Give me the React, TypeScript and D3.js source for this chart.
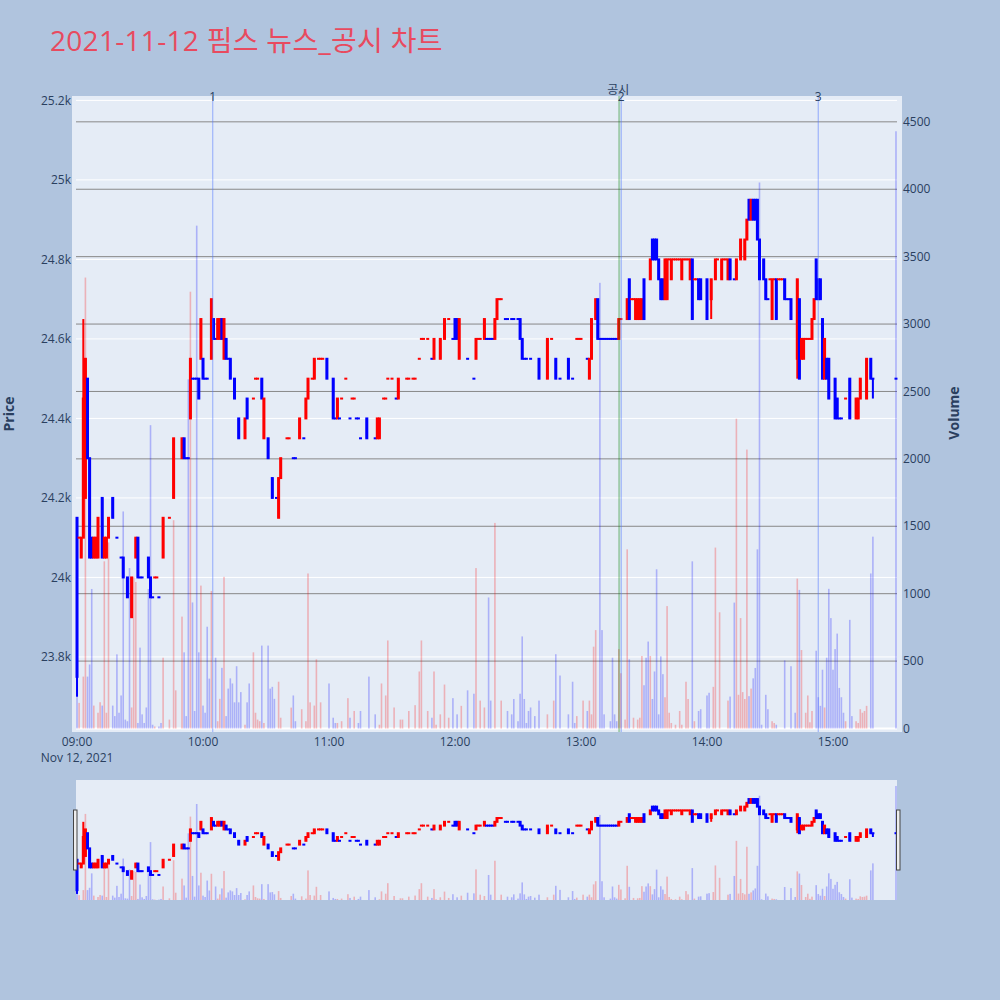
import React from 'react';
import * as d3 from 'd3';

// ---------- data (1-minute candles, minute index from 09:00) ----------
// [minute, open, close, high?, low?]
const candleRows: number[][] = [
  [0, 24150, 23750, 24150, 23700], [1, 24100, 24100], [2, 24050, 24100], [3, 24100, 24450, 24650, 24100],
  [4, 24200, 24550], [5, 24500, 24300], [6, 24300, 24050], [7, 24100, 24050], [8, 24050, 24100],
  [9, 24050, 24100], [10, 24050, 24150], [12, 24200, 24050], [13, 24050, 24100], [14, 24050, 24100],
  [15, 24100, 24150], [17, 24200, 24150], [19, 24100, 24100], [21, 24050, 24050], [22, 24050, 24000],
  [24, 24000, 23950], [26, 23900, 24000], [28, 24050, 24100], [29, 24100, 24000], [30, 24000, 24000],
  [31, 24000, 24000], [34, 24050, 24000], [35, 24000, 23950], [36, 23950, 23950], [37, 24000, 24000],
  [38, 24000, 24000], [39, 23950, 23950], [41, 24050, 24150], [44, 24150, 24150], [46, 24200, 24350],
  [50, 24300, 24350], [51, 24350, 24300], [52, 24300, 24300], [53, 24300, 24300], [54, 24400, 24550],
  [55, 24500, 24500], [56, 24500, 24500], [57, 24500, 24500], [58, 24500, 24450], [59, 24550, 24650],
  [60, 24550, 24500], [61, 24500, 24500], [62, 24500, 24500], [64, 24550, 24700], [65, 24650, 24600],
  [66, 24600, 24600], [67, 24600, 24650], [68, 24600, 24650], [69, 24650, 24600], [70, 24550, 24650],
  [71, 24600, 24550], [72, 24550, 24550], [73, 24550, 24500], [75, 24500, 24450], [77, 24400, 24350],
  [80, 24350, 24400], [81, 24450, 24400], [84, 24450, 24450], [85, 24500, 24500], [86, 24500, 24500],
  [88, 24500, 24450], [89, 24350, 24450], [91, 24350, 24300], [93, 24250, 24200], [95, 24200, 24200],
  [96, 24150, 24250], [97, 24250, 24300], [100, 24350, 24350], [101, 24350, 24350], [103, 24300, 24300],
  [104, 24300, 24300], [106, 24350, 24400], [108, 24350, 24350], [109, 24400, 24450], [110, 24450, 24500],
  [112, 24500, 24500], [113, 24500, 24550], [115, 24550, 24550], [116, 24550, 24550], [117, 24550, 24550],
  [119, 24550, 24500], [122, 24500, 24400], [123, 24400, 24400], [124, 24400, 24450], [125, 24400, 24400],
  [126, 24450, 24450], [128, 24500, 24500], [130, 24400, 24400], [131, 24450, 24450], [132, 24450, 24450],
  [133, 24400, 24400], [134, 24400, 24400], [135, 24350, 24350], [138, 24400, 24350], [142, 24350, 24350],
  [143, 24350, 24400], [144, 24350, 24400], [146, 24450, 24450], [147, 24450, 24450], [148, 24500, 24500],
  [150, 24500, 24500], [152, 24450, 24450], [153, 24450, 24500], [157, 24500, 24500], [158, 24500, 24500],
  [160, 24500, 24500], [161, 24500, 24500], [163, 24550, 24550], [164, 24600, 24600], [165, 24600, 24600],
  [167, 24600, 24600], [169, 24550, 24550], [170, 24550, 24600], [173, 24550, 24600], [175, 24600, 24650],
  [177, 24650, 24650], [179, 24600, 24600], [180, 24650, 24600], [181, 24650, 24600], [182, 24550, 24650],
  [186, 24550, 24550], [189, 24500, 24500], [190, 24550, 24600], [191, 24600, 24600], [192, 24600, 24600],
  [194, 24600, 24650], [195, 24600, 24600], [196, 24600, 24600], [197, 24600, 24600], [198, 24600, 24600],
  [199, 24600, 24650], [200, 24650, 24700], [201, 24700, 24700], [202, 24700, 24700], [204, 24650, 24650],
  [205, 24650, 24650], [207, 24650, 24650], [208, 24650, 24650], [210, 24650, 24650], [211, 24650, 24600],
  [212, 24600, 24550], [213, 24550, 24550], [214, 24550, 24550], [216, 24550, 24550], [220, 24550, 24500],
  [224, 24500, 24600], [226, 24600, 24600], [228, 24550, 24500], [230, 24500, 24500], [234, 24550, 24500],
  [236, 24500, 24500], [238, 24600, 24600], [239, 24600, 24600], [240, 24600, 24600], [243, 24550, 24550],
  [244, 24500, 24550], [245, 24550, 24650], [247, 24650, 24700], [248, 24700, 24600], [249, 24600, 24600],
  [250, 24600, 24600], [251, 24600, 24600], [252, 24600, 24600], [253, 24600, 24600], [254, 24600, 24600],
  [255, 24600, 24600], [256, 24600, 24600], [257, 24600, 24600], [258, 24600, 24650], [259, 24650, 24650],
  [262, 24650, 24700], [263, 24750, 24650], [264, 24700, 24700], [265, 24700, 24700], [266, 24650, 24700],
  [267, 24650, 24700], [268, 24650, 24700], [269, 24650, 24700], [270, 24750, 24650], [273, 24750, 24800],
  [274, 24850, 24800], [275, 24850, 24800], [276, 24850, 24800], [277, 24800, 24750], [278, 24750, 24700],
  [279, 24750, 24700], [280, 24700, 24800], [281, 24700, 24800], [282, 24800, 24800], [283, 24750, 24800],
  [284, 24800, 24800], [285, 24800, 24800], [286, 24800, 24800], [287, 24800, 24800], [288, 24750, 24800],
  [289, 24800, 24800], [290, 24800, 24800], [291, 24800, 24800], [292, 24750, 24800], [293, 24800, 24650],
  [294, 24750, 24750], [295, 24750, 24750], [296, 24750, 24700], [297, 24750, 24700], [300, 24750, 24650],
  [302, 24700, 24750, 24750, 24650], [304, 24750, 24800], [305, 24800, 24800], [307, 24750, 24800],
  [308, 24800, 24800], [309, 24800, 24800], [310, 24750, 24800], [311, 24800, 24750], [313, 24750, 24750],
  [314, 24750, 24800], [316, 24800, 24850], [318, 24800, 24850], [319, 24850, 24900], [320, 24950, 24900],
  [321, 24900, 24950], [322, 24950, 24900], [323, 24950, 24900], [324, 24950, 24850], [325, 24850, 24750],
  [327, 24800, 24750], [328, 24750, 24700], [329, 24700, 24700], [330, 24750, 24750], [331, 24650, 24750],
  [332, 24750, 24750], [333, 24750, 24650], [334, 24750, 24750], [335, 24750, 24750], [336, 24750, 24750],
  [337, 24750, 24700], [338, 24700, 24700], [339, 24700, 24700], [340, 24700, 24650],
  [343, 24550, 24750, 24750, 24500], [344, 24700, 24500], [345, 24550, 24600], [346, 24550, 24600],
  [347, 24600, 24600], [348, 24600, 24600], [349, 24600, 24600], [350, 24600, 24650], [351, 24650, 24700],
  [352, 24800, 24700], [353, 24750, 24700], [354, 24750, 24700], [355, 24650, 24500], [356, 24500, 24600],
  [357, 24550, 24500], [358, 24550, 24450], [361, 24500, 24400], [362, 24450, 24400], [363, 24400, 24400],
  [364, 24400, 24400], [366, 24450, 24450], [368, 24500, 24400], [371, 24400, 24450], [372, 24400, 24450],
  [373, 24450, 24500], [376, 24450, 24550], [378, 24550, 24500], [379, 24500, 24500, 24500, 24450],
  [390, 24500, 24500],
];

// [minute, volume]
const volumeRows: number[][] = [
  [0, 258], [1, 190], [3, 385], [4, 3345], [5, 385], [6, 475], [7, 1035], [8, 170], [10, 117], [11, 195],
  [12, 170], [13, 1240], [14, 117], [15, 1380], [17, 170], [18, 92], [19, 550], [20, 117], [21, 245],
  [22, 1610], [23, 66], [24, 54], [25, 1190], [26, 156], [27, 1125], [28, 1087], [29, 41], [30, 600],
  [31, 105], [32, 41], [33, 156], [34, 1035], [35, 2250], [36, 28], [37, 15], [39, 15], [40, 41], [41, 525],
  [44, 66], [46, 1545], [47, 283], [50, 830], [51, 565], [52, 92], [53, 2590], [54, 3240], [55, 935],
  [56, 130], [57, 3730], [58, 565], [59, 1060], [60, 170], [61, 117], [62, 755], [63, 370], [64, 1020],
  [66, 525], [67, 54], [68, 220], [69, 450], [70, 1125], [71, 92], [72, 296], [73, 372], [74, 334],
  [75, 194], [76, 462], [77, 194], [78, 270], [80, 28], [81, 194], [82, 334], [84, 565], [85, 117],
  [86, 66], [87, 54], [88, 615], [89, 41], [91, 615], [92, 296], [93, 309], [94, 220], [96, 347], [97, 80],
  [102, 155], [103, 245], [104, 54], [107, 143], [109, 54], [110, 1150], [111, 194], [113, 170], [114, 513],
  [116, 194], [120, 334], [122, 80], [123, 41], [124, 41], [126, 54], [129, 225], [130, 80], [132, 130],
  [134, 41], [135, 130], [139, 385], [142, 105], [144, 28], [145, 334], [147, 245], [148, 653], [151, 156],
  [154, 66], [155, 66], [158, 130], [161, 173], [163, 423], [164, 653], [167, 130], [169, 80], [170, 423],
  [171, 28], [173, 105], [175, 326], [177, 80], [179, 225], [181, 105], [183, 168], [186, 283], [189, 258],
  [190, 1190], [192, 207], [194, 156], [196, 972], [197, 207], [199, 1525], [202, 207], [205, 130],
  [207, 105], [208, 219], [210, 54], [211, 258], [212, 683], [213, 219], [214, 41], [215, 130], [216, 156],
  [218, 92], [220, 207], [224, 105], [227, 207], [228, 551], [230, 393], [234, 105], [236, 347], [237, 41],
  [238, 92], [241, 207], [243, 130], [244, 207], [245, 105], [246, 607], [247, 730], [249, 3306], [250, 730],
  [251, 105], [254, 54], [255, 525], [256, 105], [257, 54], [258, 589], [259, 410], [261, 66], [262, 1329],
  [263, 513], [265, 80], [267, 66], [268, 80], [269, 538], [270, 321], [271, 525], [272, 645], [273, 538],
  [274, 219], [275, 423], [276, 1181], [277, 105], [278, 535], [279, 403], [280, 232], [281, 908], [282, 117],
  [283, 41], [285, 28], [287, 130], [288, 28], [290, 347], [291, 219], [293, 1240], [294, 54], [296, 130],
  [297, 143], [300, 245], [301, 265], [303, 309], [304, 1342], [306, 862], [310, 207], [311, 237], [313, 934],
  [314, 2298], [315, 250], [316, 819], [317, 270], [318, 219], [319, 2069], [320, 240], [321, 296],
  [322, 372], [323, 449], [324, 1329], [325, 4050], [326, 28], [328, 250], [329, 143], [331, 54], [332, 41],
  [333, 28], [337, 505], [340, 462], [342, 117], [343, 1112], [344, 1028], [345, 582], [347, 117], [348, 245],
  [349, 46], [350, 130], [352, 577], [353, 232], [354, 168], [355, 436], [356, 156], [357, 525], [358, 1036],
  [359, 819], [360, 436], [361, 589], [362, 704], [363, 301], [364, 232], [365, 117], [366, 54], [368, 806],
  [369, 92], [371, 54], [372, 41], [373, 143], [374, 117], [375, 130], [376, 168], [378, 1150], [379, 1423],
  [390, 4430],
];

const priceTicks = [23800, 24000, 24200, 24400, 24600, 24800, 25000, 25200];
const volumeTicks = [0, 500, 1000, 1500, 2000, 2500, 3000, 3500, 4000, 4500];
const hourTicks = [9, 10, 11, 12, 13, 14, 15];
const newsLines = [
  { label: '1', time: '10:04:37' },
  { label: '2', time: '13:19:11' },
  { label: '3', time: '14:53:00' },
];
const disclosureLines = [{ label: '공시', time: '13:18:11' }];

const TITLE = '2021-11-12 핌스 뉴스_공시 차트';

// ---------- styling ----------
const PAPER = '#b0c4de';
const PLOT_BG = '#e5ecf6';
const TXT = '#2a3f5f';
const UP = '#ff0000';
const DOWN = '#0000ff';
const FONT = "'Open Sans', 'Noto Sans CJK KR', sans-serif";

const at = (h: number, m: number, s = 0) => new Date(2021, 10, 12, h, m, s);
const fromMinute = (min: number) => new Date(at(9, 0).getTime() + min * 60000);
const parseT = (s: string) => {
  const [h, m, sec] = s.split(':').map(Number);
  return at(h, m, sec);
};

type Candle = { m: number; o: number; h: number; l: number; c: number; inc: boolean };

function buildCandles(): Candle[] {
  let inc = true;
  let cPrev: number | null = null;
  return candleRows.map((r) => {
    const [m, o, c] = r;
    const h = r[3] ?? Math.max(o, c);
    const l = r[4] ?? Math.min(o, c);
    if (c === o) {
      if (cPrev !== null && c !== cPrev) inc = c > cPrev;
    } else inc = c > o;
    cPrev = c;
    return { m, o, h, l, c, inc };
  });
}

const candles = buildCandles();
const volumes = (() => {
  let state = true;
  let ci = 0;
  return volumeRows.map(([m, v]) => {
    while (ci < candles.length && candles[ci].m <= m) {
      state = candles[ci].inc;
      ci++;
    }
    return { m, v, inc: state };
  });
})();

function Marks({ x, yp, yv, prefix }: any) {
  return (
    <g>
      {candles.map((d) => {
        const cx = x(fromMinute(d.m));
        const col = d.inc ? UP : DOWN;
        const top = yp(Math.max(d.o, d.c));
        const bot = yp(Math.min(d.o, d.c));
        return (
          <g key={prefix + 'c' + d.m}>
            {d.h !== d.l && (
              <rect x={cx - 1} y={yp(d.h)} width={2} height={yp(d.l) - yp(d.h)} fill={col} />
            )}
            <rect x={cx - 1.5} y={top - 1} width={3} height={bot - top + 2} fill={col} />
          </g>
        );
      })}
      {volumes.map((d) => {
        const cx = x(fromMinute(d.m));
        return (
          <rect
            key={prefix + 'v' + d.m}
            x={cx - 0.8}
            y={yv(d.v)}
            width={1.6}
            height={yv(0) - yv(d.v)}
            fill={d.inc ? UP : DOWN}
            fillOpacity={0.25}
          />
        );
      })}
    </g>
  );
}

export default function App() {
  const L = 76;
  const R = 897;
  const x = d3.scaleTime().domain([at(8, 59, 31), at(15, 30, 29)]).range([L, R]);
  const yP = d3.scaleLinear().domain([23620, 25201]).range([728.5, 100]);
  const yV = d3.scaleLinear().domain([0, 4662]).range([728.5, 100]);
  const ySP = yP.copy().range([900, 780]);
  const ySV = yV.copy().range([900, 780]);
  const fmtK = (v: number) => d3.format('~g')(v / 1000) + 'k';

  return (
    <div style={{ position: 'absolute', left: 0, top: 0 }}>
      <svg width={1000} height={1000} style={{ display: 'block', fontFamily: FONT }}>
        <rect x={0} y={0} width={1000} height={1000} fill={PAPER} />
        {/* title */}
        <text x={50} y={51} fontSize={28} fill="#e84a5f" fontFamily={FONT} letterSpacing={0.3}>
          {TITLE}
        </text>

        {/* main plot background */}
        <rect x={72} y={96} width={830} height={636} fill={PLOT_BG} />

        {/* price grid (white) */}
        {priceTicks.map((t) => (
          <line key={'pg' + t} x1={L} x2={R} y1={yP(t)} y2={yP(t)} stroke="#ffffff" strokeWidth={1} />
        ))}
        {/* volume grid (gray) */}
        {volumeTicks.filter((t) => t > 0).map((t) => (
          <line key={'vg' + t} x1={L} x2={R} y1={yV(t)} y2={yV(t)} stroke="#888888" strokeWidth={1} />
        ))}
        <line x1={L} x2={R} y1={yV(0)} y2={yV(0)} stroke="#ffffff" strokeWidth={2} />

        <Marks x={x} yp={yP} yv={yV} prefix="m" />

        {/* event lines */}
        {disclosureLines.map((e) => {
          const lx = x(parseT(e.time));
          return (
            <g key={'d' + e.label}>
              <line x1={lx} x2={lx} y1={96} y2={732} stroke="#008000" strokeOpacity={0.3} strokeWidth={2} />
              <text x={lx - 1} y={94} fontSize={12} fill={TXT} textAnchor="middle">
                {e.label}
              </text>
            </g>
          );
        })}
        {newsLines.map((e) => {
          const lx = x(parseT(e.time));
          return (
            <g key={'n' + e.label}>
              <line x1={lx} x2={lx} y1={96} y2={732} stroke="#5577ff" strokeOpacity={0.45} strokeWidth={1.3} />
              <text x={lx} y={101} fontSize={12} fill={TXT} textAnchor="middle">
                {e.label}
              </text>
            </g>
          );
        })}

        {/* left axis labels */}
        {priceTicks.map((t) => (
          <text key={'pl' + t} x={71} y={yP(t) + 4.2} fontSize={12} fill={TXT} textAnchor="end">
            {fmtK(t)}
          </text>
        ))}
        {/* right axis labels */}
        {volumeTicks.map((t) => (
          <text key={'vl' + t} x={903} y={yV(t) + 4.2} fontSize={12} fill={TXT} textAnchor="start">
            {t}
          </text>
        ))}
        {/* x axis labels */}
        {hourTicks.map((h) => (
          <text key={'xl' + h} x={x(at(h, 0))} y={746} fontSize={12} fill={TXT} textAnchor="middle">
            {d3.timeFormat('%H:%M')(at(h, 0))}
          </text>
        ))}
        <text x={x(at(9, 0))} y={762} fontSize={12} fill={TXT} textAnchor="middle">
          {d3.timeFormat('%b %-d, %Y')(at(9, 0))}
        </text>

        {/* axis titles */}
        <text
          transform="translate(14,414) rotate(-90)"
          fontSize={14}
          fontWeight="bold"
          fill={TXT}
          textAnchor="middle"
        >
          Price
        </text>
        <text
          transform="translate(959,413) rotate(-90)"
          fontSize={14}
          fontWeight="bold"
          fill={TXT}
          textAnchor="middle"
        >
          Volume
        </text>

        {/* range slider */}
        <rect x={L} y={780} width={R - L} height={120} fill={PLOT_BG} />
        <Marks x={x} yp={ySP} yv={ySV} prefix="s" />
        <rect x={73.5} y={810} width={3.5} height={60} fill="#eeeeee" stroke="#444444" strokeWidth={1} />
        <rect x={896.5} y={810} width={3.5} height={60} fill="#eeeeee" stroke="#444444" strokeWidth={1} />
      </svg>
    </div>
  );
}
